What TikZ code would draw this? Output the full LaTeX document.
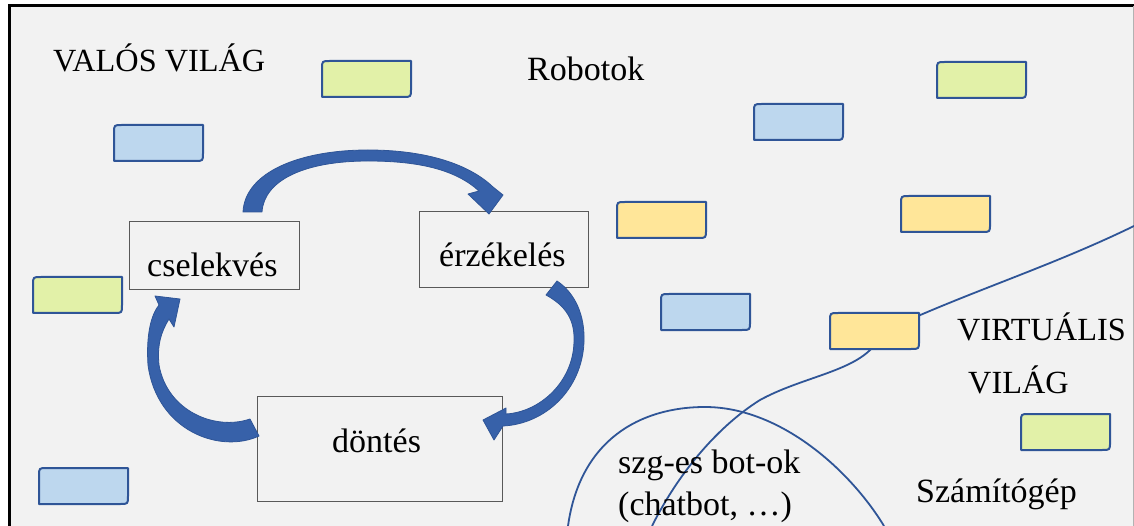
\documentclass[tikz,border=0pt]{standalone}
\usepackage{fontspec}
\setmainfont{Liberation Serif}
\definecolor{hatter}{HTML}{F2F2F2}
\definecolor{kekvonal}{HTML}{2F5597}
\definecolor{kekdoboz}{HTML}{BDD7EE}
\definecolor{zolddoboz}{HTML}{E2F1A8}
\definecolor{sargadoboz}{HTML}{FFE699}
\definecolor{nyil}{HTML}{4472C4}
\definecolor{szurke}{HTML}{595959}
% kis doboz: bal felso sarok (x,y), kitoltes
\newcommand{\kisdoboz}[3]{%
  \filldraw[kisdob,fill=#3] (#1,#2+36) -- (#1,#2+8) .. controls (#1,#2) .. (#1+8,#2)
    -- (#1+89,#2) -- (#1+89,#2+28) .. controls (#1+89,#2+36) .. (#1+81,#2+36) -- cycle;}
\begin{document}
\begin{tikzpicture}[x=1pt,y=-1pt,
  kisdob/.style={draw=kekvonal,line width=2pt,line join=round},
  doboz/.style={draw=szurke,line width=0.9pt,fill=hatter},
  szoveg/.style={anchor=base west,inner sep=0pt,font=\fontsize{34}{40}\selectfont},
  nagybetu/.style={szoveg,font=\fontsize{32.3}{40}\selectfont},
  hatar/.style={draw=kekvonal,line width=1.8pt},
  nyilforma/.style={fill=kekvonal!60!nyil,draw=kekvonal,line width=0.8pt,line join=round}]
\useasboundingbox (0,0) rectangle (1134,526);
\fill[hatter] (9,6) rectangle (1134,526);
\draw[line width=3pt] (9,526) -- (9,6) -- (1134,6);
\draw[gray!60,line width=1pt] (1133,6) -- (1133,526);
% hatarvonalak
\draw[hatar] (1134,226) .. controls (1060,262) and (990,285) .. (918,316)
  .. controls (890,330) and (880,340) .. (872,348)
  .. controls (850,372) and (800,378) .. (760,400)
  .. controls (720,425) and (680,470) .. (652,526);
\draw[hatar] (568,526) .. controls (580,440) and (640,407) .. (705,407)
  .. controls (780,407) and (850,470) .. (884,526);
% kis dobozok
\kisdoboz{322}{61}{zolddoboz}
\kisdoboz{114}{125}{kekdoboz}
\kisdoboz{754}{104}{kekdoboz}
\kisdoboz{937}{62}{zolddoboz}
\kisdoboz{617}{202}{sargadoboz}
\kisdoboz{901}{196}{sargadoboz}
\kisdoboz{661}{294}{kekdoboz}
\kisdoboz{830}{313}{sargadoboz}
\kisdoboz{1021}{414}{zolddoboz}
\kisdoboz{33}{277}{zolddoboz}
\kisdoboz{39}{468}{kekdoboz}
% ciklus dobozai
\node[doboz,minimum width=170pt,minimum height=68pt] (csel) at (214,255) {};
\node[doboz,minimum width=169pt,minimum height=76pt] (erz) at (503.5,249) {};
\node[doboz,minimum width=245pt,minimum height=105pt] (dont) at (379.5,449) {};
\node[szoveg] at (147,277) {cselekvés};
\node[szoveg] at (439,267) {érzékelés};
\node[szoveg] at (332,452) {döntés};
% ives nyilak
\filldraw[nyilforma] (243,212) .. controls (245,172) and (300,150) .. (368,150)
  .. controls (428,150) and (470,165) .. (493,187) -- (503,195) -- (489,214)
  -- (468,194) -- (479,191) .. controls (456,170) and (420,161) .. (368,161)
  .. controls (305,161) and (264,180) .. (262,212) -- cycle;
\filldraw[nyilforma] (557,281) .. controls (575,293) and (585,315) .. (584,342)
  .. controls (582,390) and (545,424) .. (503,426) -- (494,440) -- (483,420)
  -- (506,408) -- (506,414) .. controls (540,412) and (573,382) .. (574,342)
  .. controls (575,320) and (566,306) .. (546,295) -- cycle;
\filldraw[nyilforma] (259,436) .. controls (220,454) and (157,431) .. (148,365)
  .. controls (146,335) and (151,315) .. (159,305) -- (155,296) -- (180,299)
  -- (174,327) -- (169,319) .. controls (161,332) and (157,345) .. (159,365)
  .. controls (167,411) and (215,431) .. (250,419) -- cycle;
% feliratok
\node[nagybetu] at (53,72) {VALÓS VILÁG};
\node[szoveg] at (527,81) {Robotok};
\node[nagybetu] at (957,341) {VIRTUÁLIS};
\node[nagybetu] at (968,393) {VILÁG};
\node[szoveg] at (618,473) {szg-es bot-ok};
\node[szoveg] at (618,515) {(chatbot, …)};
\node[szoveg] at (916,502) {Számítógép};
\end{tikzpicture}
\end{document}
